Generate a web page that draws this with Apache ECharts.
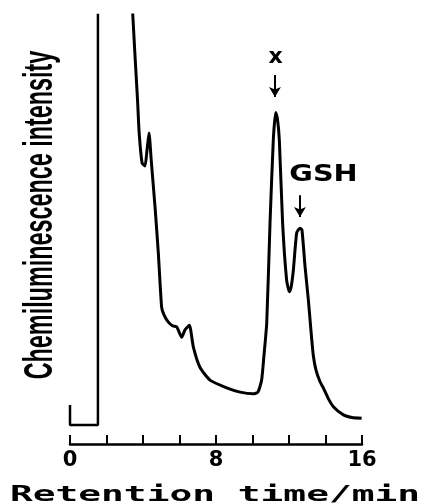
<!DOCTYPE html>
<html><head><meta charset="utf-8">
<script src="https://cdn.jsdelivr.net/npm/echarts@6/dist/echarts.min.js"></script>
<style>html,body{margin:0;padding:0;background:#fff}#c{width:427px;height:504px}</style>
</head><body><div id="c"></div>
<script>
// ---- data (retention time in min, intensity in arbitrary units, 0-100 visible) ----
const xTickLabels = ['0', '8', '16'];
const injectionTime  = [0, 0, 1.53, 1.53];
const injectionValue = [9.1, 4.4, 4.4, 130];
const traceTime = [3.20, 3.44, 3.70, 3.79, 3.95, 4.11, 4.22, 4.33, 4.45, 4.66, 4.84, 5.02, 5.15, 5.39, 5.64, 5.85, 6.12, 6.30, 6.54, 6.76, 7.12, 7.67, 8.59, 9.32, 10.04, 10.30, 10.50, 10.63, 10.78, 10.96, 11.14, 11.27, 11.36, 11.47, 11.65, 11.87, 12.02, 12.11, 12.24, 12.42, 12.60, 12.71, 12.88, 13.06, 13.21, 13.33, 13.48, 13.70, 13.88, 14.14, 14.43, 14.98, 15.45, 15.98];
const traceValue = [125, 100.0, 80.2, 72.5, 65.5, 64.8, 68.5, 72.5, 66.2, 55.2, 44.5, 31.9, 30.1, 28.4, 27.5, 27.3, 24.9, 26.6, 27.7, 22.6, 17.9, 14.9, 13.1, 12.1, 11.7, 12.1, 14.9, 20.7, 28.2, 51.5, 70.9, 77.3, 76.0, 70.9, 51.5, 38.2, 35.5, 36.4, 40.6, 49.2, 50.3, 49.9, 41.3, 33.6, 26.1, 20.7, 17.2, 14.5, 13.1, 10.7, 8.7, 6.8, 6.2, 6.0];
const peakNames = ['x', 'GSH'];
const arrowTime = [11.23, 12.60];
const arrowFrom = [86.0, 58.0];
const arrowTo   = [80.9, 52.9];
const labelTime  = [11.27, 13.89];
const labelValue = [90.1, 62.8];

const chart = echarts.init(document.getElementById('c'), null, {renderer: 'canvas'});
const zip = (a, b) => a.map((v, i) => [v, b[i]]);

chart.setOption({
  animation: false,
  backgroundColor: '#fff',
  grid: {left: 70, right: 65, top: 15, bottom: 60},
  xAxis: {
    type: 'value', min: 0, max: 16, interval: 2,
    axisLine: {lineStyle: {color: '#000', width: 2.5}},
    axisTick: {inside: true, length: 9, lineStyle: {color: '#000', width: 2}},
    splitLine: {show: false},
    axisLabel: {
      margin: 6, color: '#000', fontFamily: 'DejaVu Sans', fontWeight: 'bold', fontSize: 21,
      formatter: v => xTickLabels.includes(String(v)) ? String(v) : ''
    }
  },
  yAxis: {type: 'value', min: 0, max: 100, show: false},
  series: [
    {
      type: 'line', data: zip(injectionTime, injectionValue), showSymbol: false, clip: true,
      lineStyle: {color: '#000', width: 2.5}
    },
    {
      type: 'line', data: zip(traceTime, traceValue), showSymbol: false, clip: true, smooth: 0.18,
      lineStyle: {color: '#000', width: 3},
      markLine: {
        silent: true, symbol: ['none', 'arrow'], symbolSize: [9, 10],
        lineStyle: {color: '#000', width: 2, type: 'solid'},
        label: {show: false},
        data: arrowTime.map((t, i) => [{coord: [t, arrowFrom[i]]}, {coord: [t, arrowTo[i]]}])
      }
    }
  ]
});

const g = [];
g.push({
  type: 'text', x: 41, y: 215, rotation: Math.PI / 2, scaleX: 0.57,
  style: {text: 'Chemiluminescence intensity', fill: '#000', font: 'bold 41px "Liberation Sans", Arial, sans-serif',
          textAlign: 'center', textVerticalAlign: 'middle'}
});
g.push({
  type: 'text', x: 215, y: 495, scaleX: 1.72,
  style: {text: 'Retention time/min', fill: '#000', font: 'bold 22px "DejaVu Sans Mono", monospace',
          textAlign: 'center', textVerticalAlign: 'middle'}
});
peakNames.forEach((n, i) => {
  const p = chart.convertToPixel({gridIndex: 0}, [labelTime[i], labelValue[i]]);
  g.push({
    type: 'text', x: p[0], y: p[1], scaleX: n === 'GSH' ? 1.25 : 1.05,
    style: {text: n, fill: '#000', font: (n === 'GSH' ? 'bold 23px' : 'bold 21px') + ' "DejaVu Sans", sans-serif',
            textAlign: 'center', textVerticalAlign: 'middle'}
  });
});
chart.setOption({graphic: g});
</script></body></html>
